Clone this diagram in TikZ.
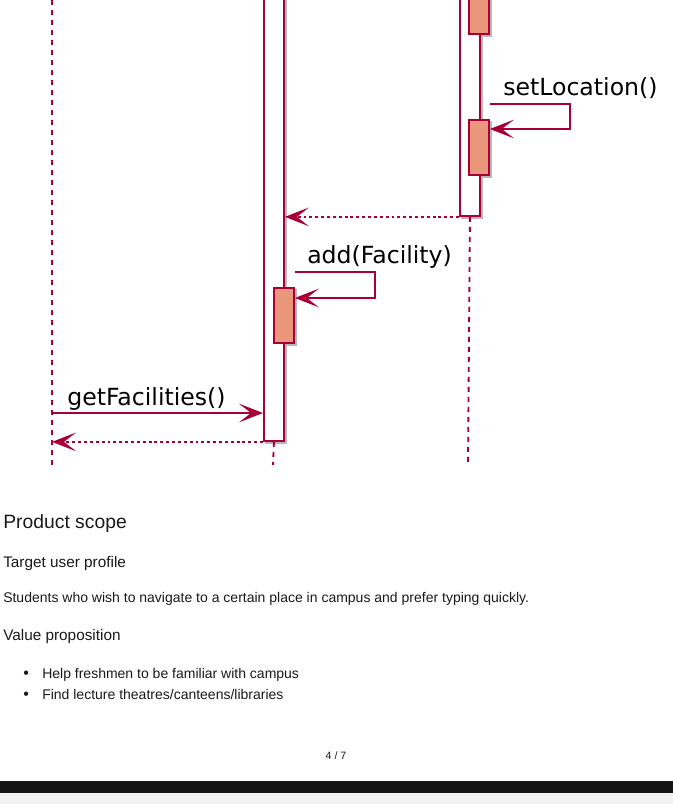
\documentclass[tikz,border=0pt]{standalone}
\usepackage{fontspec}
\setmainfont{Liberation Sans}
\newfontfamily\umlfont{DejaVu Sans}
\usetikzlibrary{
  arrows.meta,
  positioning,
  backgrounds
}
\definecolor{seqLine}{HTML}{A80036}
\definecolor{seqAct}{HTML}{E9967A}
\definecolor{seqBar}{HTML}{141414}
\definecolor{seqFoot}{HTML}{F2F2F2}
\definecolor{seqText}{HTML}{1A1A1A}
\tikzset{
  lifeline/.style={draw=seqLine, line width=1.4pt, dash pattern=on 3.75pt off 3.75pt},
  actbox/.style={
    draw=seqLine, line width=1.4pt, fill=white, inner sep=0pt,
    minimum width=15pt, anchor=north west
  },
  subact/.style={actbox, fill=seqAct},
  actshadow/.style={fill=black!28},
  msg/.style={-{Stealth[length=18pt, width=14pt, inset=9pt]}, draw=seqLine, line width=1.4pt},
  reply/.style={msg, dash pattern=on 2.2pt off 2.2pt},
  msglabel/.style={font=\umlfont\fontsize{17.7}{20}\selectfont, text=black, inner sep=0pt, anchor=base west},
  doctext/.style={text=seqText, inner sep=0pt, anchor=base west},
  heading/.style={doctext, font=\fontsize{14.5}{17}\selectfont},
  subheading/.style={doctext, font=\fontsize{11.5}{14}\selectfont},
  bodytext/.style={doctext, font=\fontsize{10.5}{13}\selectfont}
}
\begin{document}
\begin{tikzpicture}[x=0.75pt, y=-0.75pt]
  \useasboundingbox (0,0) rectangle (673,804);
  \clip (0,0) rectangle (673,804);

  % lifelines
  \coordinate (userTop) at (52,0);
  \coordinate (userBot) at (52,465);
  \coordinate (facBot) at (273,465);
  \coordinate (locBot) at (468,465);
  \draw[lifeline] (userTop) -- (userBot);

  % activations
  \node[actbox, minimum height=345pt] (facAct) at (263,-20) {};
  \node[subact, minimum height=41.25pt] (addAct) at (273,287) {};
  \node[actbox, minimum height=176.25pt] (locAct) at (459,-20) {};
  \node[subact, minimum height=39.75pt] (prevAct) at (468,-20) {};
  \node[subact, minimum height=41.25pt] (setAct) at (468,119) {};
  \draw[lifeline] (facAct.south) -- (facBot);
  \draw[lifeline] (locAct.south) -- (locBot);

  % shadows behind the activations
  \begin{scope}[on background layer]
    \fill[white] (0,0) rectangle (673,804);
    \foreach \act in {facAct, addAct, locAct, prevAct, setAct}
      \fill[actshadow] ([shift={(2.2,2.2)}]\act.north west) rectangle ([shift={(2.2,2.2)}]\act.south east);
  \end{scope}

  % messages
  \coordinate (setTurn) at (570,104);
  \draw[msg] (prevAct.east |- setTurn) -- (setTurn) -- (setTurn |- 0,129) -- (setAct.east |- 0,129);
  \node[msglabel] (setLbl) at (503,95) {setLocation()};
  \draw[reply] (locAct.south west) -- (facAct.east |- locAct.south west);

  \coordinate (addTurn) at (375,272);
  \draw[msg] (addAct.east |- addTurn) -- (addTurn) -- (addTurn |- 0,298) -- (addAct.east |- 0,298);
  \node[msglabel] (addLbl) at (307,263) {add(Facility)};

  \coordinate (getStart) at (52,413);
  \draw[msg] (getStart) -- (facAct.west |- getStart);
  \node[msglabel] (getLbl) at (67,405) {getFacilities()};
  \draw[reply] (facAct.south west) -- (userTop |- facAct.south west);

  % page text
  \node[heading] (scope) at (3,528) {Product scope};
  \node[subheading] (target) at (3,567) {Target user profile};
  \node[bodytext] (students) at (3,602) {Students who wish to navigate to a certain place in campus and prefer typing quickly.};
  \node[subheading] (value) at (3,640) {Value proposition};
  \node[bodytext, font=\fontsize{12}{13}\selectfont] (bulletA) at (23,678) {\textbullet};
  \node[bodytext] (itemA) at (42,678) {Help freshmen to be familiar with campus};
  \node[bodytext, font=\fontsize{12}{13}\selectfont] (bulletB) at (23,699) {\textbullet};
  \node[bodytext] (itemB) at (42,699) {Find lecture theatres/canteens/libraries};
  \node[doctext, font=\fontsize{8}{10}\selectfont, anchor=base] (page) at (336,759) {4 / 7};

  % viewer bar
  \fill[seqBar] (0,781) rectangle (673,793);
  \fill[seqFoot] (0,793) rectangle (673,804);
\end{tikzpicture}
\end{document}
